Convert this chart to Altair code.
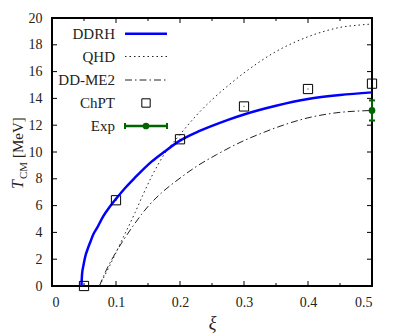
import altair as alt
import pandas as pd

# ---------------- data ----------------
ddrh_x = [0.046, 0.047, 0.049, 0.052, 0.056, 0.06, 0.065, 0.07, 0.08, 0.09, 0.1, 0.115,
          0.13, 0.156, 0.175, 0.2, 0.225, 0.25, 0.275, 0.3, 0.35, 0.4, 0.45, 0.5]
ddrh_y = [0.0, 0.9, 1.5, 2.2, 2.8, 3.3, 3.9, 4.3, 5.2, 5.9, 6.5, 7.35,
          8.1, 9.3, 10.0, 10.85, 11.45, 11.95, 12.4, 12.8, 13.45, 13.95, 14.25, 14.45]

qhd_x = [0.074, 0.09, 0.11, 0.13, 0.143, 0.156, 0.175, 0.2, 0.225, 0.25, 0.275, 0.3,
         0.325, 0.35, 0.375, 0.4, 0.425, 0.45, 0.475, 0.5]
qhd_y = [0.0, 1.5, 3.5, 5.5, 6.9, 8.2, 9.8, 11.3, 12.7, 13.9, 14.95, 15.9,
         16.75, 17.5, 18.1, 18.6, 19.0, 19.3, 19.45, 19.55]

ddme2_x = [0.074, 0.085, 0.096, 0.11, 0.127, 0.14, 0.153, 0.17, 0.2, 0.225, 0.257, 0.3,
           0.33, 0.361, 0.4, 0.44, 0.5]
ddme2_y = [0.0, 1.2, 2.2, 3.3, 4.5, 5.35, 6.1, 6.9, 8.05, 8.9, 9.8, 10.85,
           11.45, 12.0, 12.55, 12.9, 13.1]

chpt_x = [0.05, 0.1, 0.2, 0.3, 0.4, 0.5]
chpt_y = [0.0, 6.4, 10.95, 13.4, 14.7, 15.1]

exp_x = [0.5]
exp_y = [13.1]
exp_err = [0.75]

x_ticks = [0.0, 0.1, 0.2, 0.3, 0.4, 0.5]
x_minor = [0.05, 0.15, 0.25, 0.35, 0.45]
y_ticks = [0, 2, 4, 6, 8, 10, 12, 14, 16, 18, 20]

legend_labels = ["DDRH", "QHD", "DD-ME2", "ChPT", "Exp"]

# ---------------- styling ----------------
W, H = 320, 268
FONT = "Liberation Serif"
BLUE = "#0000ff"
GREEN = "#006400"
INK = "#222222"
QHD_DASH = [1.5, 3]
DDME2_DASH = [7, 3, 1.5, 3]

xs = alt.Scale(domain=[0, 0.5], nice=False, zero=False)
ys = alt.Scale(domain=[0, 20], nice=False, zero=False)

x_axis = alt.Axis(values=x_ticks, format=".1~f", domain=False, ticks=False, grid=False,
                  labelPadding=9, title="ξ", titlePadding=5)
y_axis = alt.Axis(values=y_ticks, domain=False, ticks=False, grid=False,
                  labelPadding=10, title=None)


def X(field="x"):
    return alt.X(f"{field}:Q", scale=xs, axis=x_axis)


def Y(field="y"):
    return alt.Y(f"{field}:Q", scale=ys, axis=y_axis)


def curve(xv, yv, **mark):
    df = pd.DataFrame({"x": xv, "y": yv})
    return alt.Chart(df).mark_line(interpolate="monotone", **mark).encode(x=X(), y=Y())


ddrh = curve(ddrh_x, ddrh_y, color=BLUE, strokeWidth=2.5)
qhd = curve(qhd_x, qhd_y, color=INK, strokeWidth=1, strokeDash=QHD_DASH)
ddme2 = curve(ddme2_x, ddme2_y, color=INK, strokeWidth=1, strokeDash=DDME2_DASH)

chpt_df = pd.DataFrame({"x": chpt_x, "y": chpt_y})
chpt = alt.Chart(chpt_df).mark_point(shape="square", size=85, filled=False,
                                     color="black", strokeWidth=1, opacity=1).encode(x=X(), y=Y())
chpt_dot = alt.Chart(chpt_df).mark_point(shape="circle", size=2, filled=True,
                                         color="black", opacity=0.6).encode(x=X(), y=Y())

exp_df = pd.DataFrame({"x": exp_x, "y": exp_y, "err": exp_err})
exp_df["lo"] = exp_df["y"] - exp_df["err"]
exp_df["hi"] = exp_df["y"] + exp_df["err"]
exp_bar = alt.Chart(exp_df).mark_rule(color=GREEN, strokeWidth=2).encode(
    x=X(), y=Y("lo"), y2="hi:Q")
exp_cap_lo = alt.Chart(exp_df).mark_rule(color=GREEN, strokeWidth=2, xOffset=-3, x2Offset=3).encode(
    x=X(), x2="x:Q", y=Y("lo"))
exp_cap_hi = alt.Chart(exp_df).mark_rule(color=GREEN, strokeWidth=2, xOffset=-3, x2Offset=3).encode(
    x=X(), x2="x:Q", y=Y("hi"))
exp_pt = alt.Chart(exp_df).mark_point(shape="circle", size=45, filled=True, color=GREEN,
                                      opacity=1).encode(x=X(), y=Y())

# inward ticks (gnuplot style), mirrored on all four sides
xt_major = pd.DataFrame({"x": x_ticks})
xt_minor = pd.DataFrame({"x": x_minor})
yt = pd.DataFrame({"y": y_ticks})
tick_layers = [
    alt.Chart(xt_major).mark_rule(color="black", strokeWidth=1).encode(
        x=X(), y=alt.value(H), y2=alt.value(H - 5)),
    alt.Chart(xt_major).mark_rule(color="black", strokeWidth=1).encode(
        x=X(), y=alt.value(0), y2=alt.value(5)),
    alt.Chart(xt_minor).mark_rule(color="black", strokeWidth=1).encode(
        x=X(), y=alt.value(H), y2=alt.value(H - 3)),
    alt.Chart(xt_minor).mark_rule(color="black", strokeWidth=1).encode(
        x=X(), y=alt.value(0), y2=alt.value(3)),
    alt.Chart(yt).mark_rule(color="black", strokeWidth=1).encode(
        y=Y(), x=alt.value(0), x2=alt.value(5)),
    alt.Chart(yt).mark_rule(color="black", strokeWidth=1).encode(
        y=Y(), x=alt.value(W), x2=alt.value(W - 5)),
]

# y-axis title: T_CM [MeV], rotated
ytitle = [
    alt.Chart(pd.DataFrame({"t": ["T"]})).mark_text(
        angle=270, align="left", baseline="alphabetic", font=FONT,
        fontSize=16, fontStyle="italic", color=INK).encode(
        text="t:N", x=alt.value(-29), y=alt.value(171)),
    alt.Chart(pd.DataFrame({"t": ["CM"]})).mark_text(
        angle=270, align="left", baseline="alphabetic", font=FONT,
        fontSize=11, color=INK).encode(
        text="t:N", x=alt.value(-25), y=alt.value(161)),
    alt.Chart(pd.DataFrame({"t": ["[MeV]"]})).mark_text(
        angle=270, align="left", baseline="alphabetic", font=FONT,
        fontSize=15, color=INK).encode(
        text="t:N", x=alt.value(-29), y=alt.value(140)),
]

# legend (labels right-aligned, samples to the right)
LEG_Y = [15.7, 38.5, 62, 85, 108]
LX_TEXT, LX0, LX1, LXC = 63, 73, 115, 94
legend = []
for lab, yy in zip(legend_labels, LEG_Y):
    legend.append(alt.Chart(pd.DataFrame({"t": [lab]})).mark_text(
        align="right", baseline="middle", font=FONT, fontSize=15, color=INK).encode(
        text="t:N", x=alt.value(LX_TEXT), y=alt.value(yy)))

seg = pd.DataFrame({"t": ["sample"]})
legend += [
    alt.Chart(seg).mark_rule(color=BLUE, strokeWidth=2.5).encode(
        x=alt.value(LX0), x2=alt.value(LX1), y=alt.value(LEG_Y[0])),
    alt.Chart(seg).mark_rule(color=INK, strokeWidth=1, strokeDash=QHD_DASH).encode(
        x=alt.value(LX0), x2=alt.value(LX1), y=alt.value(LEG_Y[1])),
    alt.Chart(seg).mark_rule(color=INK, strokeWidth=1, strokeDash=DDME2_DASH).encode(
        x=alt.value(LX0), x2=alt.value(LX1), y=alt.value(LEG_Y[2])),
    alt.Chart(seg).mark_point(shape="square", size=70, filled=False, color="black",
                              strokeWidth=1, opacity=1).encode(
        x=alt.value(LXC), y=alt.value(LEG_Y[3])),
    alt.Chart(seg).mark_rule(color=GREEN, strokeWidth=2.5).encode(
        x=alt.value(LX0), x2=alt.value(LX1), y=alt.value(LEG_Y[4])),
    alt.Chart(seg).mark_rule(color=GREEN, strokeWidth=2).encode(
        x=alt.value(LX0), y=alt.value(LEG_Y[4] - 3), y2=alt.value(LEG_Y[4] + 3)),
    alt.Chart(seg).mark_rule(color=GREEN, strokeWidth=2).encode(
        x=alt.value(LX1), y=alt.value(LEG_Y[4] - 3), y2=alt.value(LEG_Y[4] + 3)),
    alt.Chart(seg).mark_point(shape="circle", size=45, filled=True, color=GREEN,
                              opacity=1).encode(x=alt.value(LXC), y=alt.value(LEG_Y[4])),
]

chart = alt.layer(
    *tick_layers, qhd, ddme2, ddrh, chpt, chpt_dot,
    exp_bar, exp_cap_lo, exp_cap_hi, exp_pt,
    *ytitle, *legend,
).properties(
    width=W, height=H,
    autosize=alt.AutoSizeParams(type="none"),
    padding={"left": 44, "top": 10, "right": 20, "bottom": 50},
).configure_view(
    stroke="black", strokeWidth=2
).configure_axis(
    labelFont=FONT, labelFontSize=14, labelColor=INK,
    titleFont=FONT, titleFontSize=18, titleColor=INK, titleFontWeight="normal",
).configure_axisX(
    titleFontStyle="italic"
)

chart.save("out.html", embed_options={"renderer": "svg", "actions": False})
